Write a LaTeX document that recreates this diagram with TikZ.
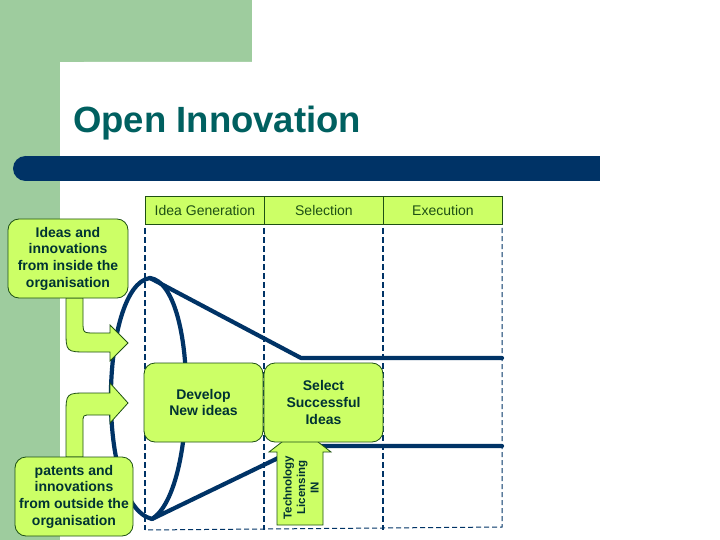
\documentclass[tikz,border=0pt]{standalone}
\usepackage{fontspec}
\setmainfont{Liberation Sans}
\usetikzlibrary{calc,positioning}
\definecolor{slidegreen}{RGB}{158,204,158}
\definecolor{oinavy}{RGB}{0,51,102}
\definecolor{oiteal}{RGB}{0,96,96}
\definecolor{oilime}{RGB}{204,255,102}
\definecolor{oiedge}{RGB}{30,80,20}
\definecolor{oitext}{RGB}{0,51,51}
\tikzset{
  oihead/.style={rectangle, draw=oiedge, fill=oilime, line width=0.9pt,
                 minimum width=119pt, minimum height=28pt, inner sep=0pt,
                 anchor=north west, font=\fontsize{14}{16}\selectfont, text=oiedge},
  oibox/.style ={rectangle, rounded corners=11pt, draw=oiedge, fill=oilime,
                 line width=0.8pt, minimum width=118pt, minimum height=79pt,
                 inner sep=0pt, align=center, text=oitext,
                 font=\fontsize{14}{16.7}\selectfont\bfseries},
  oiflow/.style={draw=oiedge, fill=oilime, line width=0.8pt, line join=miter},
  oiline/.style={oinavy, line width=4.2pt, line cap=round, line join=round},
  oigrid/.style={oinavy, line width=2pt, dash pattern=on 6pt off 3pt},
  oigridthin/.style={oinavy, line width=1pt, dash pattern=on 5pt off 3pt},
}
\begin{document}
\begin{tikzpicture}[x=1pt, y=-1pt]
  \useasboundingbox (0,0) rectangle (720,540);
  % slide background
  \fill[slidegreen] (0,0) rectangle (252,62);
  \fill[slidegreen] (0,0) rectangle (60,540);
  \fill[white, rounded corners=24pt] (60,62) rectangle (760,580);
  \node[anchor=base west, inner sep=0pt, text=oiteal,
        font=\fontsize{36.5}{40}\selectfont\bfseries] (title) at (73,133) {Open Innovation};
  \fill[oinavy] (25,156) rectangle (600,181);
  \fill[oinavy] (25.5,168.5) circle (12.5pt);
  % phase headers
  \node[oihead] (hgen) at (145,196) {Idea Generation};
  \node[oihead, right=-0.9pt of hgen] (hsel) {Selection};
  \node[oihead, right=-0.9pt of hsel] (hexe) {Execution};
  % lanes
  \foreach \gx in {145,264,383}
    \draw[oigrid] (\gx,228) -- (\gx,530);
  \draw[oigridthin] (502,228) -- (502,527) -- (145,530);
  % funnel
  \coordinate (apex) at (150,278);
  \coordinate (base) at (152,519);
  \coordinate (topend) at (301,358);
  \coordinate (botend) at (303,446);
  \coordinate (topright) at (502,358);
  \coordinate (botright) at (502,446);
  \draw[oiline] (base) .. controls (95,505) and (100,285) .. (apex)
                       .. controls (198,285) and (198,490) .. (base);
  \draw[oiline] (apex) -- (topend) -- (topright);
  \draw[oiline] (base) -- (botend) -- (botright);
  % flows into the funnel
  \filldraw[oiflow] (66,298) -- (66,330) .. controls (66,352) .. (88,352) -- (110,352)
    -- (110,361) -- (128,343) -- (110,325) -- (110,333) -- (95,333)
    .. controls (83,333) .. (83,321) -- (83,298) -- cycle;
  \filldraw[oiflow] (66,457) -- (66,415) .. controls (66,393) .. (88,393) -- (110,393)
    -- (110,383) -- (128,403) -- (110,423) -- (110,415) -- (91,415)
    .. controls (83,415) .. (83,423) -- (83,457) -- cycle;
  \filldraw[oiflow] (277,525) -- (277,452) -- (269,452) -- (300,428) -- (331,452)
    -- (323,452) -- (323,525) -- cycle;
  % boxes
  \node[oibox, minimum width=120pt] (inside) at (68,258.5)
    {Ideas and\\innovations\\from inside the\\organisation};
  \node[oibox] (outside) at (74,496.5)
    {patents and\\innovations\\from outside the\\organisation};
  \node[oibox, minimum width=119pt] (develop) at (203.5,402.5) {Develop\\New ideas};
  \node[oibox, minimum width=119pt] (select) at (323.5,402.5) {Select\\Successful\\Ideas};
  \node[rotate=90, align=center, inner sep=0pt, text=oitext,
        font=\fontsize{11.5}{13.5}\selectfont\bfseries] (tech) at (301,487.5)
    {Technology\\Licensing\\IN};
\end{tikzpicture}
\end{document}
